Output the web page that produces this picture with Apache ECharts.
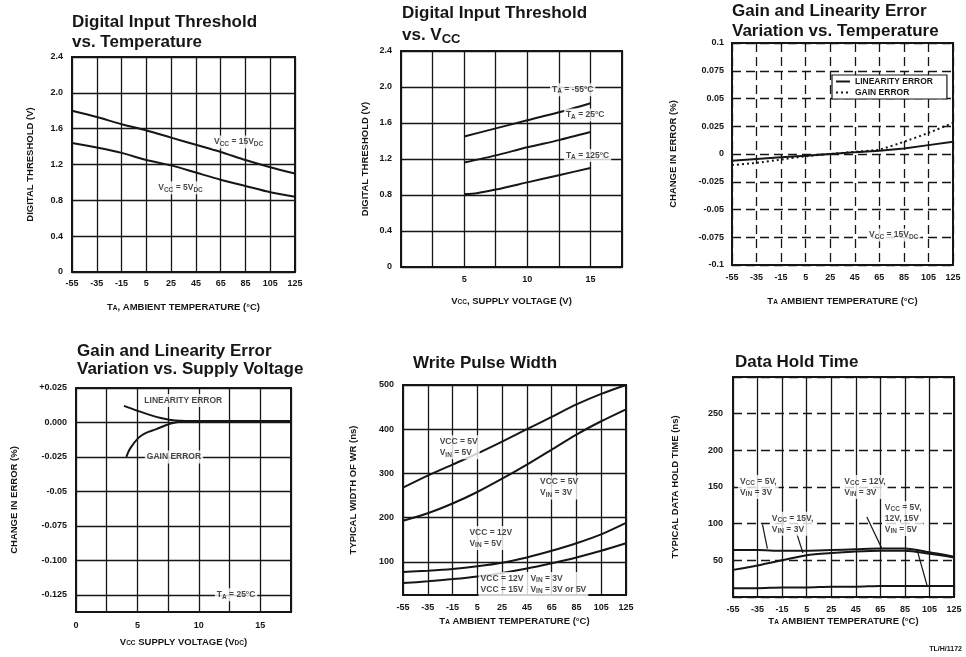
<!DOCTYPE html>
<html>
<head>
<meta charset="utf-8">
<script src="https://cdn.jsdelivr.net/npm/echarts@6/dist/echarts.min.js"></script>
<style>
  html, body { margin: 0; padding: 0; background: #fff; }
  #chart { width: 966px; height: 657px; }
</style>
</head>
<body>
<div id="chart"></div>
<script>
// ---- Digital Input Threshold vs. Temperature ----
const tempTicks = [-55, -35, -15, 5, 25, 45, 65, 85, 105, 125];
const thrVcc15 = [1.80, 1.73, 1.65, 1.58, 1.50, 1.42, 1.34, 1.25, 1.17, 1.10];
const thrVcc5 = [1.44, 1.39, 1.33, 1.25, 1.19, 1.11, 1.03, 0.96, 0.89, 0.84];

// ---- Digital Input Threshold vs. VCC ----
const vccA = [5, 7.5, 10, 12.5, 15];
const thrTaM55 = [1.45, 1.54, 1.63, 1.72, 1.82];
const thrTa25 = [1.16, 1.24, 1.33, 1.41, 1.50];
const vccB = [5, 6, 7.5, 10, 12.5, 15];
const thrTa125 = [0.81, 0.82, 0.86, 0.94, 1.02, 1.10];

// ---- Gain and Linearity Error vs. Temperature ----
const linErrTemp = [-0.006, -0.0045, -0.003, -0.0015, 0, 0.0015, 0.003, 0.005, 0.008, 0.011];
const gainErrTemp = [-0.010, -0.008, -0.005, -0.002, 0, 0.002, 0.004, 0.011, 0.019, 0.028];

// ---- Gain and Linearity Error vs. Supply Voltage ----
const linVcc = [3.9, 5, 6, 7, 7.6, 8.5, 9.5, 17.5];
const linErrVcc = [0.012, 0.0085, 0.0055, 0.003, 0.002, 0.0012, 0.001, 0.001];
const gainVcc = [4.1, 4.4, 5.1, 5.7, 6.5, 7.3, 8.1, 9, 17.5];
const gainErrVcc = [-0.025, -0.019, -0.011, -0.0075, -0.005, -0.002, 0, 0.001, 0.001];
const errTicksVcc = [0.025, 0, -0.025, -0.05, -0.075, -0.1, -0.125];
const errTickText = ['+0.025', '0.000', '-0.025', '-0.05', '-0.075', '-0.100', '-0.125'];

// ---- Write Pulse Width (ns) ----
const wpw5v5 = [268, 295, 320, 345, 372, 400, 428, 456, 480, 500];
const wpw5v3 = [193, 210, 232, 258, 288, 320, 354, 388, 418, 445];
const wpw12v5 = [77, 80, 84, 90, 98, 110, 125, 142, 162, 188];
const wpw12v3 = [52, 56, 61, 67, 75, 85, 97, 110, 125, 142];
const wpwTicks = [100, 200, 300, 400, 500];

// ---- Data Hold Time (ns) ----
const dhtVin3a = [64, 64, 63, 63, 64, 65, 66, 66, 61, 55];
const dhtVin3b = [37, 43, 50, 57, 60, 62, 63, 63, 59, 54];
const dhtVin5 = [12, 12, 13, 13, 14, 14, 15, 15, 15, 15];

const pairs = (xs, ys) => xs.map((x, i) => [x, ys[i]]);

const INK = '#161616';
const FONT = '"Liberation Sans", Arial, sans-serif';
const SUB = { fontSize: 6.5, fontWeight: 'bold', fontFamily: FONT, color: INK, verticalAlign: 'bottom', padding: [3, 0, 0, 0] };

const grids = [
  { left: 72, top: 57, width: 223, height: 215 },
  { left: 401, top: 51, width: 221, height: 216 },
  { left: 732, top: 43, width: 221, height: 222 },
  { left: 76, top: 388, width: 215, height: 224 },
  { left: 403, top: 385, width: 223, height: 210 },
  { left: 733, top: 377, width: 221, height: 220 }
].map(g => Object.assign({ show: true, borderColor: INK, borderWidth: 2, backgroundColor: 'transparent' }, g));

const tickFont = { color: INK, fontSize: 9, fontWeight: 'bold', fontFamily: FONT };
const nameFont = { color: INK, fontSize: 9.5, fontWeight: 'bold', fontFamily: FONT, rich: { s: SUB } };

function xAxis(idx, cfg) {
  return Object.assign({
    type: 'value', gridIndex: idx,
    axisLine: { show: false }, axisTick: { show: false },
    axisLabel: Object.assign({ margin: 7, showMinLabel: true, showMaxLabel: true }, tickFont),
    splitLine: { show: true, lineStyle: { color: INK, width: 1.3 } },
    nameLocation: 'middle',
    nameTextStyle: nameFont
  }, cfg);
}
function yAxis(idx, cfg) {
  return Object.assign({
    type: 'value', gridIndex: idx,
    axisLine: { show: false }, axisTick: { show: false },
    axisLabel: Object.assign({ margin: 8, showMinLabel: true, showMaxLabel: true }, tickFont),
    splitLine: { show: true, lineStyle: { color: INK, width: 1.3 } },
    nameLocation: 'middle', nameRotate: 90,
    nameTextStyle: nameFont
  }, cfg);
}

const dashed = { show: true, lineStyle: { color: INK, width: 1.3, type: [9, 5] } };
const tempFmt = v => String(v);

function curve(idx, data, extra) {
  return Object.assign({
    type: 'line', xAxisIndex: idx, yAxisIndex: idx, data: data,
    symbol: 'none', smooth: 0.25, silent: true,
    lineStyle: { color: INK, width: 2 }, itemStyle: { color: INK }
  }, extra || {});
}

// text notes placed in data coordinates of a panel
function notes(idx, items) {
  return {
    type: 'scatter', xAxisIndex: idx, yAxisIndex: idx, silent: true,
    symbolSize: 0, z: 5,
    data: items.map(it => ({ value: it.at, note: it.text })),
    label: {
      show: true, position: 'right', distance: 0, align: 'left', verticalAlign: 'middle',
      formatter: p => p.data.note,
      color: INK, fontSize: 8.5, fontWeight: 'bold', fontFamily: FONT, lineHeight: 11,
      backgroundColor: '#fff', padding: [1, 2],
      rich: { s: SUB }
    }
  };
}

const titleStyle = { fontSize: 17, fontWeight: 'bold', fontFamily: FONT, color: INK };
const title = (text, left, top, lh, rich) => ({
  text, left, top, padding: 0,
  textStyle: Object.assign({ lineHeight: lh }, titleStyle, rich ? { rich } : {})
});

const option = {
  backgroundColor: '#fff',
  animation: false,
  title: [
    title('Digital Input Threshold\nvs. Temperature', 72, 12, 20),
    title('Digital Input Threshold\nvs. V{s|CC}', 402, 2, 22, { s: { fontSize: 13, fontWeight: 'bold', fontFamily: FONT, color: INK, verticalAlign: 'bottom' } }),
    title('Gain and Linearity Error\nVariation vs. Temperature', 732, 1, 20),
    title('Gain and Linearity Error\nVariation vs. Supply Voltage', 77, 342, 18),
    title('Write Pulse Width', 413, 354, 18),
    title('Data Hold Time', 735, 353, 18),
    { text: 'TL/H/1172', right: 4, top: 646, padding: 0, textStyle: { fontSize: 7, fontWeight: 'bold', fontFamily: FONT, color: INK } }
  ],
  legend: {
    left: 832, top: 75, orient: 'vertical', itemGap: 2, itemWidth: 14, itemHeight: 8,
    data: ['LINEARITY ERROR', 'GAIN ERROR'],
    itemStyle: { color: 'rgba(0,0,0,0)', borderWidth: 0 },
    textStyle: { color: INK, fontSize: 8.5, fontWeight: 'bold', fontFamily: FONT },
    backgroundColor: '#fff', borderColor: INK, borderWidth: 1.2, padding: [2, 14, 2, 3],
    selectedMode: false
  },
  grid: grids,
  xAxis: [
    xAxis(0, { min: -55, max: 125, interval: 20, axisLabel: Object.assign({ margin: 7, formatter: tempFmt }, tickFont),
      name: 'T{s|A}, AMBIENT TEMPERATURE (°C)', nameGap: 30 }),
    xAxis(1, { min: 0, max: 17.5, interval: 2.5,
      axisLabel: Object.assign({ margin: 8, formatter: v => (v > 0 && v % 5 === 0) ? String(v) : '' }, tickFont),
      name: 'V{s|CC}, SUPPLY VOLTAGE (V)', nameGap: 29 }),
    xAxis(2, { min: -55, max: 125, interval: 20, axisLabel: Object.assign({ margin: 8, formatter: tempFmt }, tickFont),
      splitLine: dashed, name: 'T{s|A} AMBIENT TEMPERATURE (°C)', nameGap: 31 }),
    xAxis(3, { min: 0, max: 17.5, interval: 2.5,
      axisLabel: Object.assign({ margin: 9, formatter: v => v % 5 === 0 ? String(v) : '' }, tickFont),
      name: 'V{s|CC} SUPPLY VOLTAGE (V{s|DC})', nameGap: 25 }),
    xAxis(4, { min: -55, max: 125, interval: 20, axisLabel: Object.assign({ margin: 8, formatter: tempFmt }, tickFont),
      name: 'T{s|A} AMBIENT TEMPERATURE (°C)', nameGap: 21 }),
    xAxis(5, { min: -55, max: 125, interval: 20, axisLabel: Object.assign({ margin: 8, formatter: tempFmt }, tickFont),
      name: 'T{s|A} AMBIENT TEMPERATURE (°C)', nameGap: 19 })
  ],
  yAxis: [
    yAxis(0, { min: 0, max: 2.4, interval: 0.4, axisLabel: Object.assign({ margin: 9, formatter: v => v === 0 ? '0' : v.toFixed(1) }, tickFont),
      name: 'DIGITAL THRESHOLD (V)', nameGap: 37 }),
    yAxis(1, { min: 0, max: 2.4, interval: 0.4, axisLabel: Object.assign({ margin: 9, formatter: v => v === 0 ? '0' : v.toFixed(1) }, tickFont),
      name: 'DIGITAL THRESHOLD (V)', nameGap: 31 }),
    yAxis(2, { min: -0.1, max: 0.1, interval: 0.025,
      axisLabel: Object.assign({ margin: 8, formatter: v => Math.abs(v) < 1e-9 ? '0' : String(+v.toFixed(3)) }, tickFont),
      splitLine: dashed, name: 'CHANGE IN ERROR (%)', nameGap: 54 }),
    yAxis(3, { min: -0.1375, max: 0.025,
      axisTick: { show: false, customValues: errTicksVcc },
      axisLabel: Object.assign({ margin: 9, customValues: errTicksVcc,
        formatter: v => errTickText[errTicksVcc.findIndex(t => Math.abs(t - v) < 1e-9)] || '' }, tickFont),
      name: 'CHANGE IN ERROR (%)', nameGap: 57 }),
    yAxis(4, { min: 25, max: 500,
      axisTick: { show: false, customValues: wpwTicks },
      axisLabel: Object.assign({ margin: 9, customValues: wpwTicks, formatter: v => String(v) }, tickFont),
      name: 'TYPICAL WIDTH OF WR (ns)', nameGap: 45 }),
    yAxis(5, { min: 0, max: 300, interval: 50,
      axisLabel: Object.assign({ margin: 10, formatter: v => (v === 0 || v === 300) ? '' : String(v) }, tickFont),
      splitLine: { show: true, lineStyle: { color: INK, width: 1.3, type: [9, 5] } },
      name: 'TYPICAL DATA HOLD TIME (ns)', nameGap: 53 })
  ],
  series: [
    // threshold vs temperature
    curve(0, pairs(tempTicks, thrVcc15)),
    curve(0, pairs(tempTicks, thrVcc5)),
    notes(0, [
      { at: [58, 1.45], text: 'V{s|CC} = 15V{s|DC}' },
      { at: [13, 0.94], text: 'V{s|CC} = 5V{s|DC}' }
    ]),
    // threshold vs VCC
    curve(1, pairs(vccA, thrTaM55)),
    curve(1, pairs(vccA, thrTa25)),
    curve(1, pairs(vccB, thrTa125)),
    notes(1, [
      { at: [11.8, 1.97], text: 'T{s|A} = -55°C' },
      { at: [12.9, 1.69], text: 'T{s|A} = 25°C' },
      { at: [12.9, 1.24], text: 'T{s|A} = 125°C' }
    ]),
    // gain / linearity vs temperature
    curve(2, pairs(tempTicks, linErrTemp), { name: 'LINEARITY ERROR', smooth: false }),
    curve(2, pairs(tempTicks, gainErrTemp), { name: 'GAIN ERROR', smooth: 0.2, lineStyle: { color: INK, width: 2, type: [2, 3] } }),
    notes(2, [{ at: [55, -0.073], text: 'V{s|CC} = 15V{s|DC}' }]),
    // gain / linearity vs supply
    curve(3, pairs(linVcc, linErrVcc), { smooth: 0.35 }),
    curve(3, pairs(gainVcc, gainErrVcc), { smooth: 0.35 }),
    notes(3, [
      { at: [5.4, 0.016], text: 'LINEARITY ERROR' },
      { at: [5.6, -0.025], text: 'GAIN ERROR' },
      { at: [11.3, -0.125], text: 'T{s|A} = 25°C' }
    ]),
    // write pulse width
    curve(4, pairs(tempTicks, wpw5v5)),
    curve(4, pairs(tempTicks, wpw5v3)),
    curve(4, pairs(tempTicks, wpw12v5)),
    curve(4, pairs(tempTicks, wpw12v3)),
    notes(4, [
      { at: [-27, 359], text: 'VCC = 5V\nV{s|IN} = 5V' },
      { at: [54, 268], text: 'VCC = 5V\nV{s|IN} = 3V' },
      { at: [-3, 154], text: 'VCC = 12V\nV{s|IN} = 5V' },
      { at: [6, 50], text: 'VCC = 12V   V{s|IN} = 3V\nVCC = 15V   V{s|IN} = 3V or 5V' }
    ]),
    // data hold time
    curve(5, pairs(tempTicks, dhtVin3a), {
      markLine: {
        silent: true, symbol: 'none', label: { show: false },
        lineStyle: { color: INK, width: 1.2, type: 'solid' },
        data: [
          [{ coord: [-31, 99] }, { coord: [-27, 66] }],
          [{ coord: [-3, 86] }, { coord: [2, 60] }],
          [{ coord: [54, 109] }, { coord: [66, 67] }],
          [{ coord: [95, 64] }, { coord: [103, 16] }]
        ]
      }
    }),
    curve(5, pairs(tempTicks, dhtVin3b)),
    curve(5, pairs(tempTicks, dhtVin5)),
    notes(5, [
      { at: [-51, 150], text: 'V{s|CC} = 5V,\nV{s|IN} = 3V' },
      { at: [-25, 100], text: 'V{s|CC} = 15V,\nV{s|IN} = 3V' },
      { at: [34, 150], text: 'V{s|CC} = 12V,\nV{s|IN} = 3V' },
      { at: [67, 107], text: 'V{s|CC} = 5V,\n12V, 15V\nV{s|IN} = 5V' }
    ])
  ]
};

const chart = echarts.init(document.getElementById('chart'), null, { renderer: 'canvas' });
chart.setOption(option);
</script>
</body>
</html>
